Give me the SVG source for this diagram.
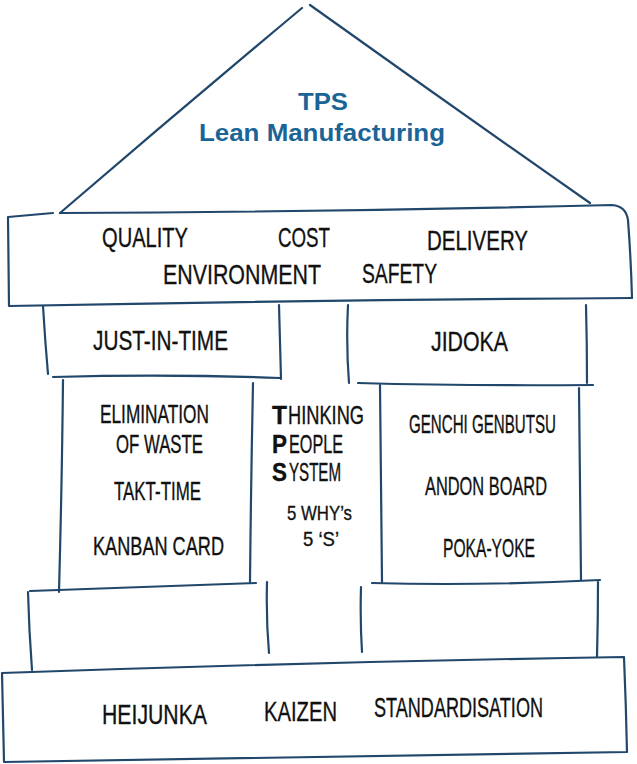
<svg xmlns="http://www.w3.org/2000/svg" width="637" height="764" viewBox="0 0 637 764">
<style>
.ln{fill:none;stroke:#21476b;stroke-width:2.2;stroke-linecap:round;stroke-linejoin:round}
.hw{font-family:"Liberation Sans","DejaVu Sans",sans-serif;fill:#111;stroke:#111;stroke-width:0.35;font-size:28px}
.sm{font-size:25px}
.xs{font-size:21px}
.b{font-weight:bold}
.tps{font-family:"Liberation Sans",Arial,sans-serif;font-weight:bold;fill:#1b6496;text-anchor:middle}
</style>
<rect width="637" height="764" fill="#fff"/>
<g id="roof">
<path class="ln" d="M60,213 Q180,110 302,8 M310,5 Q450,105 590,203"/>
<text class="tps" x="323" y="110" font-size="23" textLength="50" lengthAdjust="spacingAndGlyphs">TPS</text>
<text class="tps" x="322" y="141" font-size="23" textLength="246" lengthAdjust="spacingAndGlyphs">Lean Manufacturing</text>
</g>
<g id="beam">
<path class="ln" d="M53,213 L8,217 L9,306 Q320,300 632,298"/>
<path class="ln" d="M60,213 Q330,212 612,205 Q626,206 628,220 Q631,260 632,298"/>
<text class="hw" x="102" y="247" textLength="86" lengthAdjust="spacingAndGlyphs">QUALITY</text>
<text class="hw" x="278" y="247" textLength="52" lengthAdjust="spacingAndGlyphs">COST</text>
<text class="hw" x="427" y="250" textLength="101" lengthAdjust="spacingAndGlyphs">DELIVERY</text>
<text class="hw" x="163" y="284" textLength="158" lengthAdjust="spacingAndGlyphs">ENVIRONMENT</text>
<text class="hw" x="362" y="283" textLength="75" lengthAdjust="spacingAndGlyphs">SAFETY</text>
</g>
<g id="just-in-time">
<path class="ln" d="M43,306 Q45,340 48,374 M53,377 Q170,374 280,378 M279,305 Q280,342 281,379"/>
<text class="hw" x="93" y="350" textLength="135" lengthAdjust="spacingAndGlyphs">JUST-IN-TIME</text>
</g>
<g id="jidoka">
<path class="ln" d="M348,305 Q346,344 349,383 M358,383 Q470,386 593,385 M586,305 Q587,344 587,383"/>
<text class="hw" x="431" y="351" textLength="77" lengthAdjust="spacingAndGlyphs">JIDOKA</text>
</g>
<g id="left-pillar">
<path class="ln" d="M63,380 Q62,480 59,592 M253,383 Q251,480 250,582"/>
<text class="hw sm" x="100" y="423" textLength="109" lengthAdjust="spacingAndGlyphs">ELIMINATION</text>
<text class="hw sm" x="116" y="453" textLength="87" lengthAdjust="spacingAndGlyphs">OF WASTE</text>
<text class="hw sm" x="114" y="500" textLength="87" lengthAdjust="spacingAndGlyphs">TAKT-TIME</text>
<text class="hw sm" x="93" y="555" textLength="131" lengthAdjust="spacingAndGlyphs">KANBAN CARD</text>
</g>
<g id="center">
<text class="hw sm b" x="272" y="424" textLength="15" lengthAdjust="spacingAndGlyphs">T</text>
<text class="hw sm" x="288" y="424" textLength="76" lengthAdjust="spacingAndGlyphs">HINKING</text>
<text class="hw sm b" x="272" y="453" textLength="15" lengthAdjust="spacingAndGlyphs">P</text>
<text class="hw sm" x="289" y="453" textLength="54" lengthAdjust="spacingAndGlyphs">EOPLE</text>
<text class="hw sm b" x="272" y="481" textLength="15" lengthAdjust="spacingAndGlyphs">S</text>
<text class="hw sm" x="289" y="481" textLength="52" lengthAdjust="spacingAndGlyphs">YSTEM</text>
<text class="hw xs" x="287" y="520" textLength="65" lengthAdjust="spacingAndGlyphs">5 WHY’s</text>
<text class="hw xs" x="303" y="546" textLength="36" lengthAdjust="spacingAndGlyphs">5 ‘S’</text>
</g>
<g id="right-pillar">
<path class="ln" d="M380,385 Q381,480 382,582 M579,388 Q580,480 581,580"/>
<text class="hw sm" transform="translate(409,433) scale(0.62,1)" x="0" y="0" textLength="237" lengthAdjust="spacingAndGlyphs">GENCHI GENBUTSU</text>
<text class="hw sm" x="425" y="495" textLength="122" lengthAdjust="spacingAndGlyphs">ANDON BOARD</text>
<text class="hw sm" x="443" y="557" textLength="92" lengthAdjust="spacingAndGlyphs">POKA-YOKE</text>
</g>
<g id="left-base">
<path class="ln" d="M30,591 Q140,587 256,583 M28,592 Q29,630 32,670 M267,582 Q266,618 269,653"/>
</g>
<g id="right-base">
<path class="ln" d="M361,587 Q360,620 362,652 M372,583 Q480,586 600,580 M598,581 Q598,620 597,657"/>
</g>
<g id="foundation">
<path class="ln" d="M2,673 Q310,662 624,657 Q626,705 627,752 Q320,756 4,762 Q3,718 2,673"/>
<text class="hw" x="102" y="724" textLength="105" lengthAdjust="spacingAndGlyphs">HEIJUNKA</text>
<text class="hw" x="264" y="721" textLength="73" lengthAdjust="spacingAndGlyphs">KAIZEN</text>
<text class="hw" x="374" y="717" textLength="169" lengthAdjust="spacingAndGlyphs">STANDARDISATION</text>
</g>
</svg>
